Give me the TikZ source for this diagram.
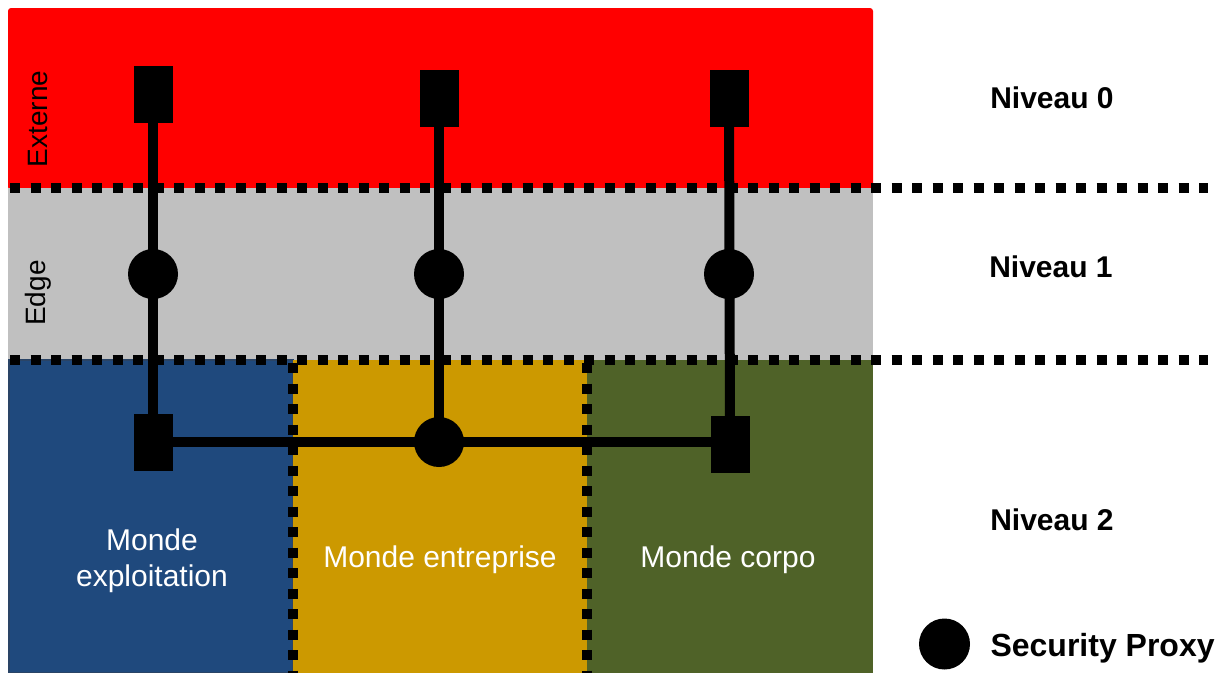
\documentclass[tikz,border=0pt]{standalone}
\usepackage{fontspec}
\setmainfont{Liberation Sans}

\definecolor{edgegray}{HTML}{C0C0C0}
\definecolor{opsblue}{HTML}{1F497D}
\definecolor{opsrim}{HTML}{2A4466}
\definecolor{entgold}{HTML}{CC9900}
\definecolor{corpgreen}{HTML}{4F6228}

\pgfdeclarelayer{zones}
\pgfdeclarelayer{links}
\pgfsetlayers{zones,links,main}

\begin{document}
\begin{tikzpicture}[x=1pt,y=-1pt,
  gate/.style={rectangle, fill=black, minimum width=39pt, minimum height=57pt, inner sep=0pt},
  proxy/.style={circle, fill=black, minimum size=50pt, inner sep=0pt},
  link/.style={line width=10pt},
  border/.style={line width=10.5pt, dash pattern=on 10pt off 10.5pt},
  level/.style={font=\fontsize{30}{36}\selectfont\bfseries},
  zonetext/.style={font=\fontsize{30}{36}\selectfont, text=white, align=center},
  side/.style={font=\fontsize{28}{34}\selectfont, rotate=90}]
\useasboundingbox (0,0) rectangle (1220,675);

% coloured bands and zones
\begin{pgfonlayer}{zones}
  \fill[red, rounded corners=3pt] (8,8) rectangle (873,190);
  \fill[edgegray] (8,188) rectangle (873,360);
  \fill[opsblue, draw=opsrim, line width=1.5pt] (8.75,360) rectangle (293,672.25);
  \fill[entgold] (293,360) rectangle (587,673);
  \fill[corpgreen] (587,360) rectangle (873,673);
  \draw[border] (10,188) -- (1208,188);
  \draw[border] (10,360) -- (1208,360);
  \draw[border] (293,363) -- (293,673);
  \draw[border] (587,363) -- (587,673);
\end{pgfonlayer}

% side labels
\node[side] (ext) at (38,119) {Externe};
\node[side] (edg) at (38,293) {Edge};

% level labels
\node[level] (n0) at (1052,98) {Niveau 0};
\node[level] (n1) at (1051,267) {Niveau 1};
\node[level] (n2) at (1052,520) {Niveau 2};

% zone labels
\node[zonetext] (zops) at (152,561) {Monde\\exploitation};
\node[zonetext] (zent) at (440,560) {Monde entreprise};
\node[zonetext] (zcorp) at (728,560) {Monde corpo};

% external gateways
\node[gate] (t1) at (153,94) {};
\node[gate] (t2) at (439,98) {};
\node[gate] (t3) at (729,98) {};

% edge proxies
\node[proxy] (c1) at (153,274) {};
\node[proxy] (c2) at (439,274) {};
\node[proxy] (c3) at (729,274) {};

% internal gateways and central proxy
\node[gate] (b1) at (153,442) {};
\node[proxy] (b2) at (439,442) {};
\node[gate] (b3) at (730,444) {};

% links
\begin{pgfonlayer}{links}
  \draw[link] (t1.center) -- (b1.center);
  \draw[link] (t2.center) -- (b2.center);
  \draw[link] (t3.center) -- (b3.center);
  \draw[link] (b1.center) -- (b3.center |- b1.center);
\end{pgfonlayer}

% legend
\node[proxy, minimum size=51pt] (lg) at (944.5,644) {};
\node[level, font=\fontsize{32}{38}\selectfont\bfseries, anchor=west] (lgt) at (987,648) {Security Proxy};
\end{tikzpicture}
\end{document}
